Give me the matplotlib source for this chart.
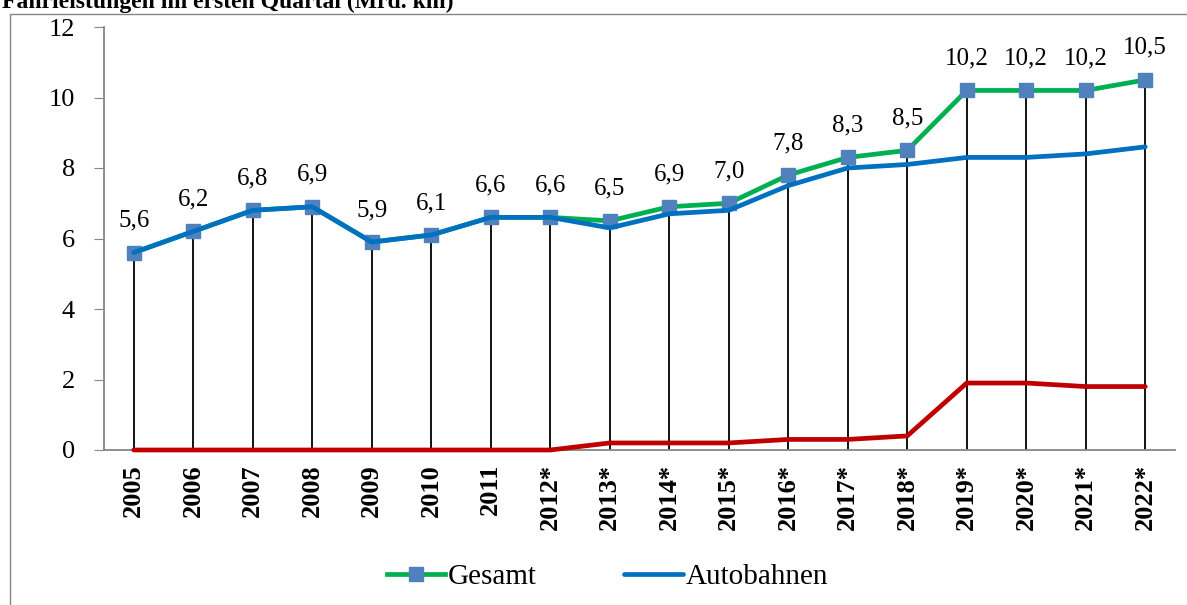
import matplotlib
matplotlib.use("Agg")
import matplotlib.pyplot as plt
from matplotlib.patches import Rectangle

years = ["2005", "2006", "2007", "2008", "2009", "2010", "2011", "2012*", "2013*",
         "2014*", "2015*", "2016*", "2017*", "2018*", "2019*", "2020*", "2021*", "2022*"]
gesamt = [5.6, 6.2, 6.8, 6.9, 5.9, 6.1, 6.6, 6.6, 6.5, 6.9, 7.0, 7.8, 8.3, 8.5, 10.2, 10.2, 10.2, 10.5]
autobahnen = [5.6, 6.2, 6.8, 6.9, 5.9, 6.1, 6.6, 6.6, 6.3, 6.7, 6.8, 7.5, 8.0, 8.1, 8.3, 8.3, 8.4, 8.6]
andere = [0, 0, 0, 0, 0, 0, 0, 0, 0.2, 0.2, 0.2, 0.3, 0.3, 0.4, 1.9, 1.9, 1.8, 1.8]
y_ticks = [0, 2, 4, 6, 8, 10, 12]

plt.rcParams['font.family'] = ['Liberation Serif', 'DejaVu Serif']

W, H = 1187, 605
fig = plt.figure(figsize=(W / 100, H / 100), dpi=100)

# outer chart frame
fig.patches.append(Rectangle((10 / W, -0.01), 1.2, (H - 14) / H + 0.01, transform=fig.transFigure,
                             fill=False, edgecolor='#868686', linewidth=1.0))
fig.text(2 / W, (H - 8) / H, "Fahrleistungen im ersten Quartal (Mrd. km)", fontsize=17,
         fontweight='bold', ha='left', va='baseline')

ax = fig.add_axes([104 / W, 155 / H, (1175 - 104) / W, (450 - 27) / H])
x = list(range(len(years)))

# drop lines
ax.vlines(x, 0, gesamt, colors='black', linewidth=1.3, zorder=1)

ax.plot(x, andere, color='#C00000', linewidth=3.4, zorder=5, solid_capstyle='round', clip_on=False)
ax.plot(x, gesamt, color='#00B050', linewidth=3.4, marker='s', markersize=10,
        markerfacecolor='#4F81BD', markeredgecolor='#4F81BD', zorder=3, label='Gesamt')
ax.plot(x, autobahnen, color='#0070C0', linewidth=3.4, zorder=4, label='Autobahnen',
        solid_capstyle='round')

for xi, v in zip(x, gesamt):
    ax.annotate(f"{v:.1f}".replace('.', ','), (xi, v), xytext=(0, 23), textcoords='offset points',
                ha='center', va='center', fontsize=18)

ax.set_xlim(-0.5, len(years) - 0.5)
ax.set_ylim(0, 12)
ax.set_yticks(y_ticks)
ax.set_yticklabels([str(t) for t in y_ticks], fontsize=19)
ax.set_xticks(x)
ax.set_xticklabels(years, rotation=90, fontsize=19, fontweight='bold')
ax.tick_params(axis='x', length=0, pad=10)
ax.tick_params(axis='y', length=7, color='#868686', pad=14)
for s in ['top', 'right']:
    ax.spines[s].set_visible(False)
for s in ['left', 'bottom']:
    ax.spines[s].set_color('#868686')
    ax.spines[s].set_linewidth(1.3)

ax.legend(loc='center', bbox_to_anchor=(0.47, -0.30), ncol=2, frameon=False, fontsize=21,
          handlelength=2.0, handletextpad=0.1, columnspacing=3.0)

fig.savefig("out.png", dpi=100)
